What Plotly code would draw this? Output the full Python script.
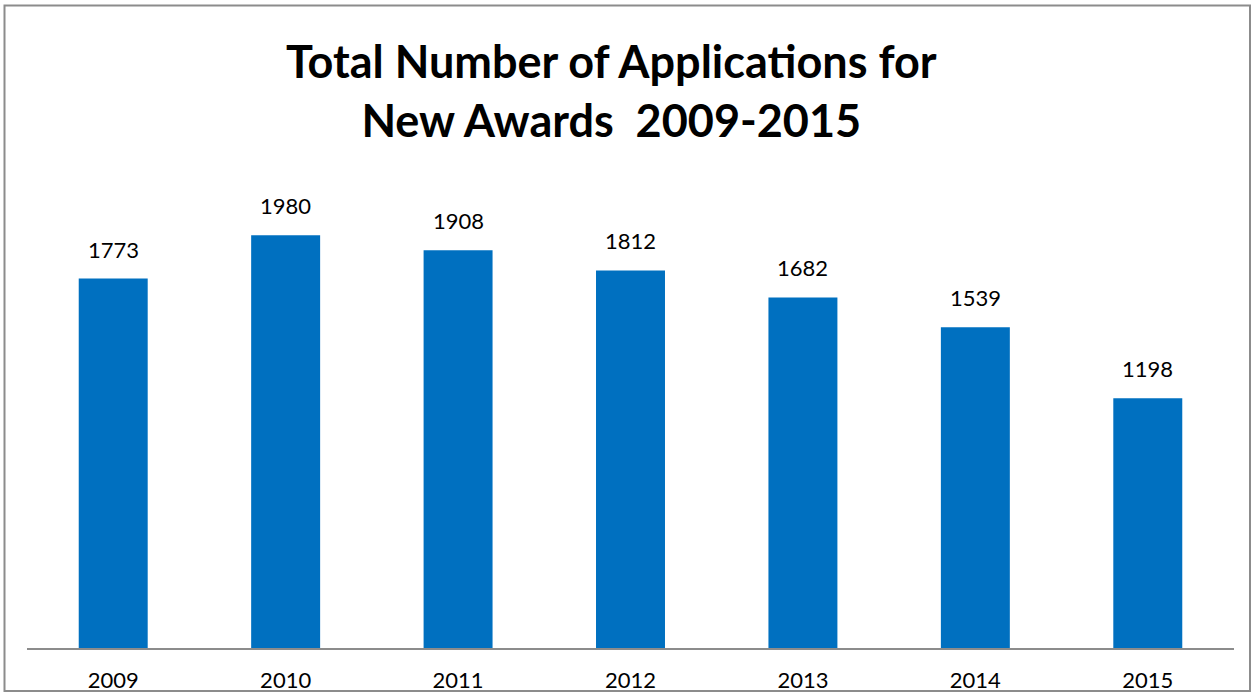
import plotly.graph_objects as go

years = ["2009", "2010", "2011", "2012", "2013", "2014", "2015"]
applications = [1773, 1980, 1908, 1812, 1682, 1539, 1198]

W, H = 1252, 693
ML, MR, MT, MB = 27, 18, 127, 45
pw, ph = W - ML - MR, H - MT - MB

def px_to_paper_x(px):
    return (px - ML) / pw

def px_to_paper_y(py):
    return (H - MB - py) / ph

fig = go.Figure()
fig.add_trace(go.Bar(
    x=years,
    y=applications,
    width=0.4,
    marker=dict(color="#0070C0", line=dict(width=0)),
    textposition="none",
    hoverinfo="x+y",
))

# value labels above the bars (category index used as x position)
for i, v in enumerate(applications):
    fig.add_annotation(
        x=i, y=v, text=str(v), showarrow=False,
        yanchor="bottom", yshift=14,
        font=dict(family="Lato", size=22, color="#000000"),
    )

# chart title
fig.add_annotation(
    xref="paper", yref="paper",
    x=px_to_paper_x(611), y=px_to_paper_y(32),
    xanchor="center", yanchor="top",
    text="<b>Total Number of Applications for<br>New Awards  2009-2015</b>",
    showarrow=False,
    font=dict(family="Lato", size=45, color="#000000"),
)

# outer frame of the chart
fig.add_shape(
    type="rect", xref="paper", yref="paper",
    x0=px_to_paper_x(4.5), x1=px_to_paper_x(1250),
    y0=px_to_paper_y(691), y1=px_to_paper_y(5.5),
    line=dict(color="#8c8c8c", width=2), fillcolor="rgba(0,0,0,0)",
    layer="above",
)

fig.update_layout(
    width=W, height=H,
    margin=dict(l=ML, r=MR, t=MT, b=MB, pad=0, autoexpand=False),
    paper_bgcolor="white", plot_bgcolor="white",
    showlegend=False,
    xaxis=dict(
        type="category", automargin=False,
        range=[-0.5, len(years) - 0.5],
        showline=True, linecolor="#8c8c8c", linewidth=1.5,
        ticks="", showgrid=False, zeroline=False,
        tickfont=dict(family="Lato", size=22, color="#000000"),
        ticklabelstandoff=12,
    ),
    yaxis=dict(
        range=[0, 2500], visible=False, showgrid=False, zeroline=False,
        automargin=False,
    ),
)

fig.write_html("out.html")
